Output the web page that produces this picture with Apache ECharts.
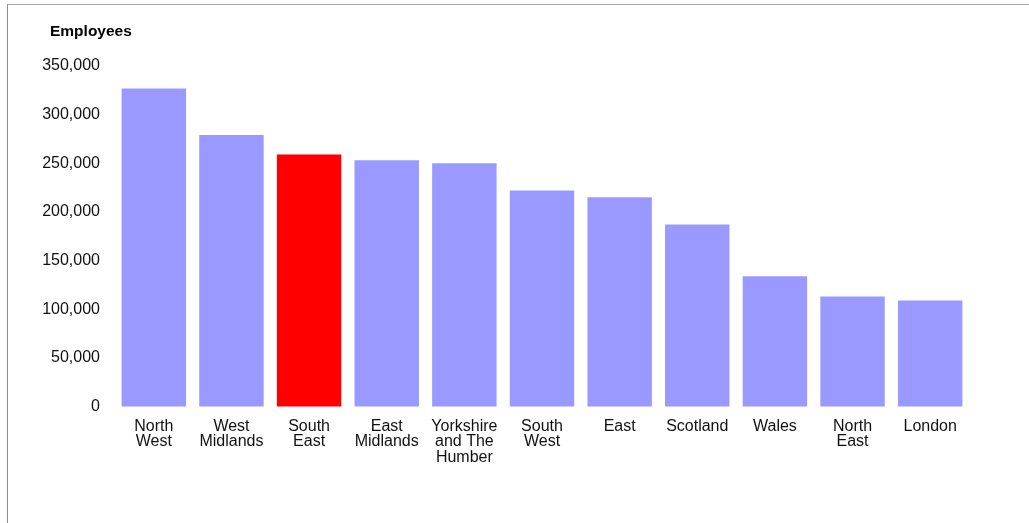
<!DOCTYPE html>
<html>
<head>
<meta charset="utf-8">
<title>Employees by region</title>
<script src="https://cdn.jsdelivr.net/npm/echarts@6/dist/echarts.min.js"></script>
<style>
  html, body { margin: 0; padding: 0; background: #ffffff; }
  #wrap { position: relative; width: 1029px; height: 523px; overflow: hidden; }
  #frame { position: absolute; left: 7px; top: 4px; right: 0; bottom: 0;
           border-top: 1px solid #a6a6a6; border-left: 1px solid #8c8c8c; }
  #chart { position: absolute; left: 0; top: 0; width: 1029px; height: 523px; }
</style>
</head>
<body>
<div id="wrap">
  <div id="frame"></div>
  <div id="chart"></div>
</div>
<script>
// Regions, in the order shown
const regions = ['North\nWest', 'West\nMidlands', 'South\nEast', 'East\nMidlands',
                 'Yorkshire\nand The\nHumber', 'South\nWest', 'East', 'Scotland',
                 'Wales', 'North\nEast', 'London'];
// Number of employees per region
const employees = [327000, 279000, 259000, 253000, 250000, 222000, 215000,
                   187000, 134000, 113000, 109000];
// Region drawn in the highlight colour
const highlightRegion = 'South\nEast';
const baseColor = '#9999ff';
const highlightColor = '#ff0000';
// Value axis range
const yMax = 350000;
const yStep = 50000;

const chart = echarts.init(document.getElementById('chart'), null, { renderer: 'canvas' });
const font = '"Liberation Sans", Arial, sans-serif';

chart.setOption({
  animation: false,
  title: {
    text: 'Employees',
    left: 45,
    top: 19,
    textStyle: { fontFamily: font, fontSize: 15.5, fontWeight: 'bold', color: '#000000' }
  },
  grid: { left: 115, width: 854, top: 66, height: 340.5, containLabel: false },
  xAxis: {
    type: 'category',
    data: regions,
    axisLine: { show: false },
    axisTick: { show: false },
    axisLabel: {
      interval: 0,
      margin: 12,
      fontFamily: font,
      fontSize: 16,
      lineHeight: 15.5,
      color: '#111111'
    }
  },
  yAxis: {
    type: 'value',
    min: 0,
    max: yMax,
    interval: yStep,
    axisLine: { show: false },
    axisTick: { show: false },
    splitLine: { show: false },
    axisLabel: {
      margin: 15,
      fontFamily: font,
      fontSize: 16,
      color: '#111111',
      formatter: v => v.toLocaleString('en-GB')
    }
  },
  series: [{
    type: 'bar',
    barCategoryGap: '17%',
    data: employees.map((v, i) => ({
      value: v,
      itemStyle: { color: regions[i] === highlightRegion ? highlightColor : baseColor }
    }))
  }]
});
</script>
</body>
</html>
